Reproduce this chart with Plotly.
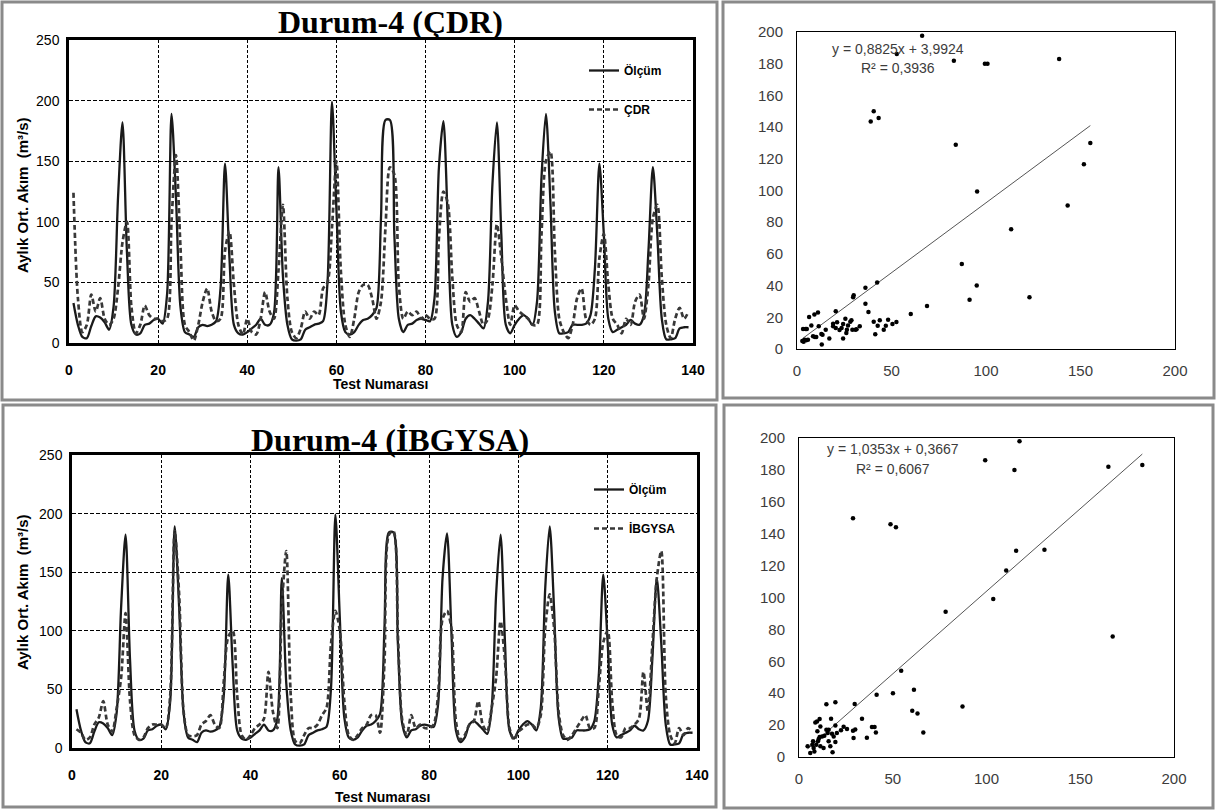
import plotly.graph_objects as go

W, H = 1219, 811

# ---------------- data ----------------
months = list(range(1, 140))

olcum = [33, 15, 5, 4, 14, 22, 21, 17, 11, 30,
         120, 182, 75, 15, 7, 8, 15, 16, 19, 20,
         16, 40, 189, 120, 30, 9, 7, 5, 13, 15,
         14, 15, 18, 45, 148, 70, 15, 8, 7, 9,
         12, 15, 20, 15, 15, 25, 145, 55, 15, 3,
         2, 3, 11, 13, 15, 16, 18, 50, 199, 110,
         26, 9, 7, 9, 15, 19, 20, 23, 29, 103,
         184, 184, 89, 20, 9, 15, 16, 19, 20, 19,
         18, 37, 145, 183, 98, 15, 5, 9, 20, 23,
         20, 16, 12, 34, 131, 182, 89, 15, 8, 15,
         20, 23, 20, 15, 34, 136, 189, 117, 26, 8,
         8, 9, 15, 15, 15, 16, 23, 62, 148, 89,
         20, 9, 11, 13, 15, 19, 16, 15, 23, 76,
         145, 89, 20, 3, 3, 4, 12, 13, 13]

cdr = [124, 37, 9, 15, 40, 26, 37, 20, 15, 20,
       45, 83, 100, 30, 8, 15, 31, 23, 20, 20,
       18, 20, 100, 155, 80, 15, 9, 2, 15, 34,
       45, 26, 18, 20, 76, 92, 48, 15, 7, 20,
       9, 7, 20, 42, 26, 20, 60, 114, 37, 9,
       4, 12, 26, 20, 26, 23, 45, 50, 95, 150,
       59, 15, 5, 20, 42, 48, 48, 37, 20, 34,
       95, 145, 139, 48, 20, 26, 23, 26, 20, 23,
       20, 20, 87, 125, 115, 54, 15, 9, 42, 34,
       37, 26, 15, 20, 48, 98, 70, 37, 15, 31,
       26, 23, 20, 15, 15, 89, 150, 158, 76, 20,
       9, 4, 15, 37, 45, 20, 15, 20, 70, 90,
       48, 20, 15, 8, 20, 15, 34, 40, 20, 48,
       103, 114, 54, 15, 4, 20, 29, 20, 26]

ibgysa = [16, 13, 7, 9, 20, 26, 40, 20, 14, 34,
          60, 115, 40, 11, 7, 9, 17, 20, 20, 20,
          17, 45, 185, 131, 31, 11, 10, 11, 20, 23,
          28, 20, 17, 57, 95, 100, 45, 11, 7, 11,
          17, 20, 25, 65, 31, 17, 120, 168, 45, 6,
          4, 11, 17, 17, 20, 28, 34, 88, 117, 100,
          40, 11, 7, 11, 17, 20, 28, 28, 13, 74,
          182, 185, 97, 23, 11, 28, 17, 20, 17, 17,
          20, 45, 110, 117, 102, 23, 7, 11, 20, 23,
          40, 20, 14, 34, 60, 108, 74, 17, 7, 14,
          17, 20, 20, 17, 28, 102, 131, 102, 31, 11,
          7, 11, 17, 23, 28, 17, 17, 51, 90, 100,
          40, 11, 9, 17, 17, 20, 25, 65, 31, 88,
          145, 168, 45, 11, 4, 17, 11, 17, 14]

# scatter: CDR (x) vs measured (y)
cdr_sc_x = [66.2, 52.8, 83.0, 99.4, 100.8, 138.7, 40.6, 39.0, 43.2, 84.0,
            155.2, 151.8, 95.3, 143.2, 113.3, 87.2, 95.1, 91.3, 123.0, 68.8,
            60.2, 42.4, 36.2, 37.8, 36.2, 30.0, 29.7, 20.5, 40.6, 43.8,
            42.7, 41.4, 45.9, 47.0, 48.2, 50.5, 52.6, 33.2, 30.9, 29.3,
            28.2, 28.8, 25.6, 24.4, 23.6, 26.1, 26.4, 24.4, 27.0, 19.1,
            19.1, 20.5, 21.2, 17.1, 15.2, 13.1, 12.9, 11.5, 11.1, 9.2,
            6.4, 7.6, 10.2, 9.5, 8.5, 4.6, 3.2, 4.1, 2.8, 4.9,
            5.8, 3.5, 5.2, 31.5, 22.5, 13.5]
cdr_sc_y = [197.7, 186.1, 181.9, 180.0, 180.0, 183.0, 150.0, 143.6, 145.7, 128.9,
            130.0, 116.5, 99.3, 90.6, 75.5, 53.6, 40.0, 31.1, 32.6, 27.1,
            22.1, 41.9, 38.7, 23.3, 28.6, 33.9, 32.6, 23.8, 17.2, 18.1,
            14.7, 9.3, 12.2, 14.7, 18.5, 15.8, 17.0, 14.3, 12.2, 12.2,
            17.2, 18.1, 19.1, 15.8, 13.2, 10.1, 12.2, 6.7, 14.9, 16.0,
            14.3, 13.2, 16.8, 6.7, 12.2, 2.9, 9.5, 14.3, 23.1, 21.7,
            20.2, 14.9, 7.6, 7.6, 8.0, 12.6, 12.6, 5.9, 5.0, 5.5,
            5.9, 4.5, 12.6, 12.5, 12.0, 9.0]

# scatter: İBGYSA (x) vs measured (y)
ibg_sc_x = [117.6, 99.3, 114.9, 165.0, 183.1, 28.8, 48.8, 51.7, 115.8, 130.9,
            110.5, 103.6, 78.2, 167.3, 54.5, 41.4, 50.1, 61.3, 87.2, 60.4,
            63.2, 66.3, 41.0, 36.2, 40.3, 38.9, 33.6, 30.0, 28.8, 29.1,
            29.7, 19.4, 14.6, 17.1, 19.4, 23.8, 25.6, 22.4, 20.2, 19.4,
            17.9, 16.7, 18.5, 17.6, 15.8, 14.6, 15.3, 13.5, 15.8, 11.4,
            11.0, 9.6, 8.7, 9.8, 12.3, 11.0, 10.1, 11.4, 13.1, 7.8,
            7.5, 7.1, 8.2, 6.0, 4.6, 9.2, 10.5]
ibg_sc_y = [197.9, 186.0, 180.0, 182.0, 183.1, 149.7, 146.0, 144.1, 129.3, 129.9,
            117.0, 99.1, 91.1, 75.5, 54.0, 39.0, 40.0, 42.1, 31.7, 29.0,
            27.3, 15.4, 15.4, 12.1, 18.8, 18.8, 24.0, 17.3, 16.5, 11.9,
            33.2, 34.4, 33.0, 24.0, 19.8, 19.0, 17.5, 16.7, 15.0, 9.4,
            2.9, 6.7, 12.9, 14.6, 17.1, 17.1, 15.0, 13.3, 9.8, 19.2,
            23.8, 22.3, 21.7, 16.1, 12.9, 12.5, 9.8, 6.7, 5.6, 5.6,
            9.8, 7.7, 3.5, 2.5, 6.7, 7.7, 11.3]

# trendline coefficients as printed on the chart
cdr_slope, cdr_icpt = 0.8825, 3.9924
ibg_slope, ibg_icpt = 1.0353, 0.3667

x_ticks_line = [0, 20, 40, 60, 80, 100, 120, 140]
y_ticks_line = [0, 50, 100, 150, 200, 250]
ticks_sc = [0, 50, 100, 150, 200]
y_ticks_sc = [0, 20, 40, 60, 80, 100, 120, 140, 160, 180, 200]


def px(p):
    return p / W


def py(p):
    return 1 - p / H


SANS = "Liberation Sans"
SERIF = "Liberation Serif"

fig = go.Figure()

solid = dict(color="#1a1a1a", width=2.3, shape="spline", smoothing=0.8)
dashed = dict(color="#383838", width=2.7, dash="5px,3px", shape="spline", smoothing=0.8)

# top-left
fig.add_trace(go.Scatter(x=months, y=olcum, mode="lines", line=solid, name="Ölçüm",
                         xaxis="x", yaxis="y", legend="legend", legendgroup="a1"))
fig.add_trace(go.Scatter(x=months, y=cdr, mode="lines", line=dashed, name="ÇDR",
                         xaxis="x", yaxis="y", legend="legend", legendgroup="a2"))
# bottom-left
fig.add_trace(go.Scatter(x=months, y=olcum, mode="lines", line=solid, name="Ölçüm",
                         xaxis="x3", yaxis="y3", legend="legend2", legendgroup="b1"))
fig.add_trace(go.Scatter(x=months, y=ibgysa, mode="lines", line=dashed, name="İBGYSA",
                         xaxis="x3", yaxis="y3", legend="legend2", legendgroup="b2"))

# scatter plots
mk = dict(color="black", size=4.5, symbol="circle")
x0, x1 = min(cdr_sc_x), max(cdr_sc_x)
fig.add_trace(go.Scatter(x=[x0, x1], y=[cdr_slope * x0 + cdr_icpt, cdr_slope * x1 + cdr_icpt],
                         mode="lines", line=dict(color="#555555", width=1),
                         xaxis="x2", yaxis="y2", showlegend=False))
fig.add_trace(go.Scatter(x=cdr_sc_x, y=cdr_sc_y, mode="markers", marker=mk,
                         xaxis="x2", yaxis="y2", showlegend=False))
x0, x1 = min(ibg_sc_x), max(ibg_sc_x)
fig.add_trace(go.Scatter(x=[x0, x1], y=[ibg_slope * x0 + ibg_icpt, ibg_slope * x1 + ibg_icpt],
                         mode="lines", line=dict(color="#555555", width=1),
                         xaxis="x4", yaxis="y4", showlegend=False))
fig.add_trace(go.Scatter(x=ibg_sc_x, y=ibg_sc_y, mode="markers", marker=mk,
                         xaxis="x4", yaxis="y4", showlegend=False))


def line_xaxis(dom, anchor):
    return dict(domain=dom, anchor=anchor, range=[0, 140], tickvals=x_ticks_line,
                showgrid=True, gridcolor="black", gridwidth=1, griddash="3px,2px",
                showline=True, linecolor="black", linewidth=2.5, mirror=True,
                zeroline=False, ticks="outside", ticklen=12, tickcolor="rgba(0,0,0,0)",
                automargin=False,
                tickfont=dict(family=SANS, size=14, color="black", weight="bold"))


def line_yaxis(dom, anchor):
    return dict(domain=dom, anchor=anchor, range=[0, 250], tickvals=y_ticks_line,
                showgrid=True, gridcolor="black", gridwidth=1.3, griddash="4px,2px",
                showline=True, linecolor="black", linewidth=2.5, mirror=True,
                zeroline=False, ticks="outside", ticklen=4, tickcolor="rgba(0,0,0,0)",
                automargin=False,
                tickfont=dict(family=SANS, size=14, color="black"))


def sc_xaxis(dom, anchor):
    return dict(domain=dom, anchor=anchor, range=[0, 200], tickvals=ticks_sc,
                showgrid=False, showline=True, linecolor="black", linewidth=1, mirror=True,
                zeroline=False, ticks="outside", ticklen=8, tickcolor="rgba(0,0,0,0)",
                automargin=False,
                tickfont=dict(family=SANS, size=15, color="#3c3c3c"))


def sc_yaxis(dom, anchor):
    return dict(domain=dom, anchor=anchor, range=[0, 200], tickvals=y_ticks_sc,
                showgrid=False, showline=True, linecolor="black", linewidth=1, mirror=True,
                zeroline=False, ticks="outside", ticklen=10, tickcolor="rgba(0,0,0,0)",
                automargin=False,
                tickfont=dict(family=SANS, size=15, color="#3c3c3c"))


legend_common = dict(bgcolor="rgba(0,0,0,0)", borderwidth=0, xanchor="left", yanchor="top",
                     font=dict(family=SANS, size=12, color="black", weight="bold"),
                     traceorder="grouped", tracegroupgap=20, itemwidth=30)

fig.update_layout(
    width=W, height=H,
    autosize=False,
    margin=dict(l=0, r=0, t=0, b=0, pad=0, autoexpand=False),
    paper_bgcolor="white", plot_bgcolor="white",
    xaxis=line_xaxis([px(69), px(693)], "y"),
    yaxis=line_yaxis([py(343), py(40)], "x"),
    xaxis2=sc_xaxis([px(797), px(1175)], "y2"),
    yaxis2=sc_yaxis([py(349), py(32)], "x2"),
    xaxis3=line_xaxis([px(72), px(697)], "y3"),
    yaxis3=line_yaxis([py(748), py(455)], "x3"),
    xaxis4=sc_xaxis([px(799), px(1174)], "y4"),
    yaxis4=sc_yaxis([py(757), py(438)], "x4"),
    legend=dict(x=px(584), y=py(56), **legend_common),
    legend2=dict(x=px(589), y=py(475), **legend_common),
    showlegend=True,
)

border = dict(color="#8a8a8a", width=3)
shapes = []
for (a, b, c, d) in [(2, 2, 717, 400), (723, 2, 1214, 398), (3, 405, 716, 807), (724, 405, 1213, 808)]:
    shapes.append(dict(type="rect", xref="paper", yref="paper", x0=px(a), x1=px(c),
                       y0=py(d), y1=py(b), line=border, layer="below"))
fig.update_layout(shapes=shapes)


def note(text, x, y, font, angle=0):
    return dict(text=text, x=px(x), y=py(y), xref="paper", yref="paper",
                xanchor="center", yanchor="middle", showarrow=False,
                textangle=angle, font=font)


title_font = dict(family=SERIF, size=32, color="black")
axis_font = dict(family=SANS, size=15, color="black")
eq_font = dict(family=SANS, size=14, color="#3c3c3c")

ann = [
    note("<b>Durum-4 (ÇDR)</b>", 390, 22, title_font),
    note("<b>Durum-4 (İBGYSA)</b>", 390, 440, title_font),
    note("<b>Aylık Ort. Akım  (m³/s)</b>", 22, 195, axis_font, -90),
    note("<b>Aylık Ort. Akım  (m³/s)</b>", 22, 592, axis_font, -90),
    note("<b>Test Numarası</b>", 380, 384, dict(family=SANS, size=14, color="black")),
    note("<b>Test Numarası</b>", 382, 797, dict(family=SANS, size=14, color="black")),
    note("y = 0,8825x + 3,9924", 898, 49, eq_font),
    note("R² = 0,3936", 898, 68, eq_font),
    note("y = 1,0353x + 0,3667", 893, 449, eq_font),
    note("R² = 0,6067", 893, 469, eq_font),
]
fig.update_layout(annotations=ann)

fig.write_html(
    "out.html",
    config={"responsive": False, "displayModeBar": False},
    post_script="document.body.style.margin='0px';document.body.style.overflow='hidden';",
)
